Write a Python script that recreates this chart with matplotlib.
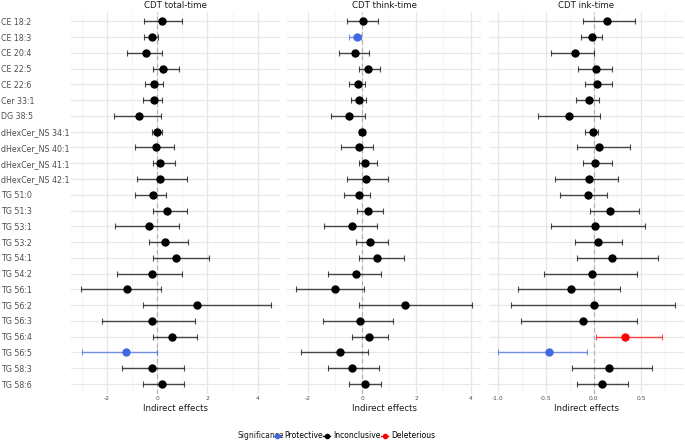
import matplotlib
matplotlib.use("Agg")
import matplotlib.pyplot as plt
from matplotlib.lines import Line2D
import numpy as np

lipids = ["CE 18:2", "CE 18:3", "CE 20:4", "CE 22:5", "CE 22:6", "Cer 33:1", "DG 38:5",
          "dHexCer_NS 34:1", "dHexCer_NS 40:1", "dHexCer_NS 41:1", "dHexCer_NS 42:1",
          "TG 51:0", "TG 51:3", "TG 53:1", "TG 53:2", "TG 54:1", "TG 54:2", "TG 56:1",
          "TG 56:2", "TG 56:3", "TG 56:4", "TG 56:5", "TG 58:3", "TG 58:6"]

# CDT total-time
total_est = [0.19, -0.21, -0.45, 0.24, -0.12, -0.13, -0.71, 0.01, -0.05, 0.13, 0.11, -0.16,
             0.41, -0.32, 0.33, 0.77, -0.21, -1.21, 1.60, -0.19, 0.60, -1.24, -0.19, 0.19]
total_lo = [-0.53, -0.53, -1.19, -0.17, -0.49, -0.57, -1.69, -0.21, -0.87, -0.17, -0.80, -0.87,
            -0.17, -1.67, -0.31, -0.17, -1.57, -3.04, -0.57, -2.19, -0.17, -2.99, -1.39, -0.57]
total_hi = [0.99, 0.04, 0.21, 0.87, 0.25, 0.19, 0.16, 0.19, 0.69, 0.73, 1.20, 0.37,
            1.20, 0.89, 1.23, 2.05, 1.00, 0.17, 4.51, 1.49, 1.60, -0.01, 1.09, 1.08]
total_sig = ["Inconclusive"] * 21 + ["Protective"] + ["Inconclusive"] * 2

# CDT think-time
think_est = [0.04, -0.21, -0.27, 0.20, -0.17, -0.11, -0.48, 0.00, -0.12, 0.10, 0.15, -0.12,
             0.22, -0.37, 0.27, 0.55, -0.22, -0.99, 1.58, -0.09, 0.25, -0.81, -0.39, 0.09]
think_lo = [-0.55, -0.47, -0.86, -0.13, -0.50, -0.43, -1.14, -0.13, -0.80, -0.13, -0.56, -0.66,
            -0.21, -1.42, -0.22, -0.11, -1.28, -2.45, -0.12, -1.44, -0.39, -2.25, -1.26, -0.50]
think_hi = [0.60, -0.04, 0.26, 0.67, 0.12, 0.13, 0.11, 0.12, 0.40, 0.54, 0.97, 0.27,
            0.77, 0.53, 0.97, 1.53, 0.69, 0.07, 4.06, 1.15, 0.94, 0.20, 0.63, 0.71]
think_sig = ["Inconclusive", "Protective"] + ["Inconclusive"] * 22

# CDT ink-time
ink_est = [0.136, -0.021, -0.196, 0.028, 0.035, -0.045, -0.252, -0.003, 0.056, 0.014, -0.045, -0.063,
           0.175, 0.014, 0.042, 0.192, -0.021, -0.231, 0.007, -0.105, 0.325, -0.465, 0.164, 0.087]
ink_lo = [-0.108, -0.136, -0.448, -0.164, -0.084, -0.185, -0.584, -0.084, -0.171, -0.108, -0.406, -0.346,
          -0.042, -0.444, -0.189, -0.178, -0.514, -0.794, -0.867, -0.755, 0.031, -1.000, -0.224, -0.171]
ink_hi = [0.437, 0.084, 0.010, 0.192, 0.192, 0.056, 0.066, 0.042, 0.381, 0.189, 0.252, 0.136,
          0.472, 0.538, 0.301, 0.671, 0.458, 0.273, 0.853, 0.458, 0.717, -0.073, 0.615, 0.357]
ink_sig = ["Inconclusive"] * 20 + ["Deleterious", "Protective"] + ["Inconclusive"] * 2

titles = ["CDT total-time", "CDT think-time", "CDT ink-time"]
sig_levels = ["Protective", "Inconclusive", "Deleterious"]
sig_colors = {"Protective": "#4169E1", "Inconclusive": "#000000", "Deleterious": "#FF0000"}

panels = [
    (total_est, total_lo, total_hi, total_sig, [-2, 0, 2, 4], [-3, -1, 1, 3, 5], ["-2", "0", "2", "4"]),
    (think_est, think_lo, think_hi, think_sig, [-2, 0, 2, 4], [-3, -1, 1, 3, 5], ["-2", "0", "2", "4"]),
    (ink_est, ink_lo, ink_hi, ink_sig, [-1.0, -0.5, 0.0, 0.5], [-0.75, -0.25, 0.25, 0.75],
     ["-1.0", "-0.5", "0.0", "0.5"]),
]

W, H = 685, 441
fig = plt.figure(figsize=(W / 100, H / 100), dpi=100)
fig.patch.set_facecolor("white")

xpix = [(71, 280), (287, 481), (489, 684)]
top_px, bot_px = 11.8, 393.5
n = len(lipids)
ypos = np.arange(n)[::-1]

for i, (est, lo, hi, sig, ticks, minor, tlabels) in enumerate(panels):
    x0, x1 = xpix[i]
    ax = fig.add_axes([x0 / W, 1 - bot_px / H, (x1 - x0) / W, (bot_px - top_px) / H])
    est = np.array(est); lo = np.array(lo); hi = np.array(hi)
    rng = hi.max() - lo.min()
    ax.set_xlim(lo.min() - 0.05 * rng, hi.max() + 0.05 * rng)
    ax.set_ylim(-0.6, n - 1 + 0.6)
    for m in minor:
        ax.axvline(m, color="#F0F0F0", lw=0.5, zorder=0)
    for t in ticks:
        ax.axvline(t, color="#E6E6E6", lw=0.9, zorder=0)
    for y in ypos:
        ax.axhline(y, color="#E8E8E8", lw=0.9, zorder=0)
    ax.axvline(0, color="#B0B0B0", lw=0.8, ls=(0, (4, 3)), zorder=1)
    for j in range(n):
        c = sig_colors[sig[j]]
        ax.errorbar(est[j], ypos[j], xerr=[[est[j] - lo[j]], [hi[j] - est[j]]], fmt="none",
                    ecolor=c, elinewidth=1.0, capsize=2, capthick=0.8, alpha=0.7, zorder=2)
        ax.plot(est[j], ypos[j], "o", color=c, markersize=5, zorder=3)
    ax.set_xticks(ticks)
    ax.set_xticklabels(tlabels)
    ax.tick_params(axis="x", length=0, labelsize=4.3, labelcolor="#4D4D4D", pad=2)
    if i == 0:
        ax.set_yticks(ypos)
        ax.set_yticklabels(lipids)
        ax.tick_params(axis="y", length=0, labelsize=5.7, labelcolor="#4D4D4D", pad=(x0 - 1) * 0.72)
        for lab in ax.get_yticklabels():
            lab.set_horizontalalignment("left")
    else:
        ax.set_yticks([])
    for s in ax.spines.values():
        s.set_visible(False)
    ax.set_facecolor("white")
    ax.set_title(titles[i], fontsize=6.2, color="#1A1A1A", pad=3)
    ax.set_xlabel("Indirect effects", fontsize=6.2, color="#1A1A1A", labelpad=2)

fig.text(237 / W, 1 - 436 / H, "Significance", fontsize=5.5, color="#1A1A1A", va="center", ha="left")
handles = [Line2D([0], [0], color=sig_colors[s], marker="o", markersize=3.0, lw=0.9) for s in sig_levels]
fig.legend(handles, sig_levels, loc="center left", bbox_to_anchor=(274 / W, 1 - 436 / H), ncol=3,
           frameon=False, fontsize=5.5, handlelength=0.9, handletextpad=0.4, columnspacing=0.1,
           borderpad=0, borderaxespad=0)

fig.savefig("out.png", dpi=100, facecolor="white")
